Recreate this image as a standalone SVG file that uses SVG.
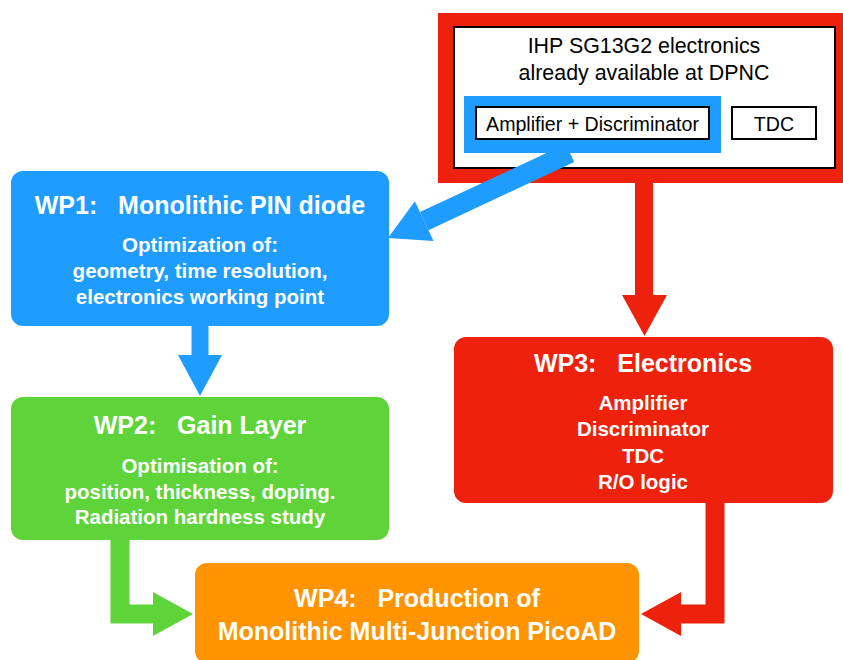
<svg xmlns="http://www.w3.org/2000/svg" width="843" height="660" viewBox="0 0 843 660">
<style>
text{font-family:"Liberation Sans",Arial,sans-serif;text-anchor:middle;white-space:pre}
.t{font-size:25px;font-weight:bold;fill:#fff}
.s{font-size:20.5px;font-weight:bold;fill:#fff}
.k{font-size:21.4px;fill:#000}
.b{font-size:19.6px;fill:#000}
.box{stroke:#000;stroke-width:2;fill:#fff}
</style>
<rect width="843" height="660" fill="#fff"/>
<g id="source">
<rect x="438" y="13" width="415" height="170" fill="#ee220c"/>
<rect class="box" x="454" y="27" width="381" height="141"/>
<text class="k" x="644" y="53">IHP SG13G2 electronics</text>
<text class="k" x="644" y="80">already available at DPNC</text>
</g>
<g id="connectors">
<path d="M570,153 L424.2,221.1" stroke="#1e9cff" stroke-width="20" fill="none"/>
<polygon points="388,238 433.5,241 414.9,201.2" fill="#1e9cff"/>
<path d="M644,183 V296" stroke="#ee220c" stroke-width="18" fill="none"/>
<polygon points="622,295 667,295 644.5,336" fill="#ee220c"/>
<path d="M200,326 V356" stroke="#1e9cff" stroke-width="17" fill="none"/>
<polygon points="178,355 222,355 200,396" fill="#1e9cff"/>
<path d="M120,540 V614 H154" stroke="#5ed43a" stroke-width="19" fill="none" stroke-linejoin="miter"/>
<polygon points="153,592 153,636 193,614" fill="#5ed43a"/>
<path d="M715,503 V614 H680" stroke="#ee220c" stroke-width="19" fill="none" stroke-linejoin="miter"/>
<polygon points="681,592 681,636 641,614" fill="#ee220c"/>
</g>
<g id="amp-disc">
<rect x="464" y="96" width="257" height="57" fill="#1e9cff"/>
<rect class="box" x="476" y="107" width="233" height="32"/>
<text class="b" x="592.5" y="130.5">Amplifier + Discriminator</text>
</g>
<g id="tdc">
<rect class="box" x="732" y="107" width="84" height="32"/>
<text class="b" x="774" y="130.5">TDC</text>
</g>
<g id="wp1">
<rect x="11" y="171" width="378" height="155" rx="12" fill="#1e9cff"/>
<text class="t" x="200" y="214">WP1:   Monolithic PIN diode</text>
<text class="s" x="200" y="252">Optimization of:</text>
<text class="s" x="200" y="278">geometry, time resolution,</text>
<text class="s" x="200" y="304">electronics working point</text>
</g>
<g id="wp2">
<rect x="11" y="397" width="378" height="143" rx="12" fill="#5ed43a"/>
<text class="t" x="200" y="434">WP2:   Gain Layer</text>
<text class="s" x="200" y="473">Optimisation of:</text>
<text class="s" x="200" y="499">position, thickness, doping.</text>
<text class="s" x="200" y="524">Radiation hardness study</text>
</g>
<g id="wp3">
<rect x="454" y="337" width="379" height="166" rx="12" fill="#ee220c"/>
<text class="t" x="643" y="372">WP3:   Electronics</text>
<text class="s" x="643" y="410">Amplifier</text>
<text class="s" x="643" y="436">Discriminator</text>
<text class="s" x="643" y="463">TDC</text>
<text class="s" x="643" y="489">R/O logic</text>
</g>
<g id="wp4">
<rect x="195" y="563" width="444" height="100" rx="12" fill="#ff9300"/>
<text class="t" x="417" y="607">WP4:   Production of</text>
<text class="t" x="417" y="640">Monolithic Multi-Junction PicoAD</text>
</g>
</svg>
